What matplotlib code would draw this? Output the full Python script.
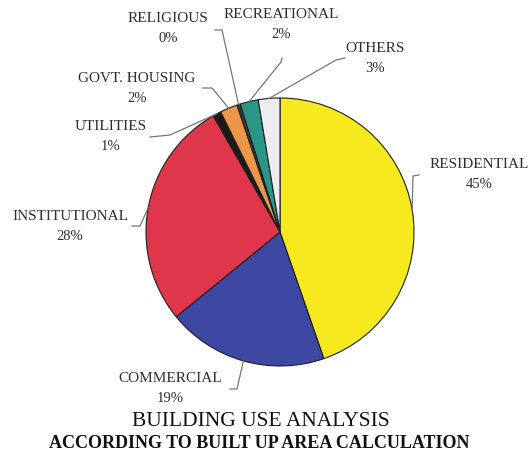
"""Building use pie chart."""

import numpy as np
import matplotlib.pyplot as plt

W, H = 528, 455
DPI = 100
FONT = "Liberation Serif"

# Share of built-up area per building use (percent).
USES = ["RESIDENTIAL", "COMMERCIAL", "INSTITUTIONAL", "UTILITIES",
        "GOVT. HOUSING", "RELIGIOUS", "RECREATIONAL", "OTHERS"]
SHARES = [44.7, 19.4, 27.6, 1.0, 2.1, 0.4, 2.2, 2.6]
COLORS = ["#f6ea1e", "#3d48a2", "#e0364b", "#1c1a1a",
          "#ec9648", "#3a3a3a", "#2a9686", "#ececf1"]

# Label centre (pixels from top-left) and leader path leading to the slice.
LABEL_POS = {
    "RESIDENTIAL": (479, 165),
    "COMMERCIAL": (170, 379),
    "INSTITUTIONAL": (70, 216),
    "UTILITIES": (111, 127),
    "GOVT. HOUSING": (137, 79),
    "RELIGIOUS": (168, 19),
    "RECREATIONAL": (281, 15),
    "OTHERS": (375, 49),
}
LEADERS = {
    "RESIDENTIAL": [(419, 175), (413, 176)],
    "COMMERCIAL": [(230, 389), (237, 389)],
    "INSTITUTIONAL": [(132, 226), (140, 226)],
    "UTILITIES": [(150, 137), (170, 135)],
    "GOVT. HOUSING": [(203, 88), (212, 88)],
    "RELIGIOUS": [(215, 30), (222, 30)],
    "RECREATIONAL": [(282, 58), (281, 62)],
    "OTHERS": [(345, 58), (336, 60)],
}

CENTER = (280, 232)
RADIUS = 134


def px(x, y):
    return x, H - y


def _main() -> None:
    fig = plt.figure(figsize=(W / DPI, H / DPI), dpi=DPI)
    ax = fig.add_axes([0, 0, 1, 1])
    ax.axis("off")

    cx, cy = px(*CENTER)
    wedges, _ = ax.pie(SHARES, colors=COLORS, startangle=90,
                       counterclock=False, center=(cx, cy), radius=RADIUS,
                       wedgeprops=dict(edgecolor="#1e1e1e", linewidth=0.8))
    ax.set_xlim(0, W)
    ax.set_ylim(0, H)
    ax.set_aspect("equal")

    for name, share, wedge in zip(USES, SHARES, wedges):
        lx, ly = LABEL_POS[name]
        ax.text(*px(lx, ly), name, ha="center", va="center", family=FONT,
                fontsize=11, color="#2e2e2e")
        ax.text(*px(lx, ly + 20), f"{share:.0f}%", ha="center", va="center",
                family=FONT, fontsize=10.5, color="#2e2e2e")
        mid = np.deg2rad((wedge.theta1 + wedge.theta2) / 2)
        path = [px(*p) for p in LEADERS[name]]
        path.append((cx + RADIUS * np.cos(mid), cy + RADIUS * np.sin(mid)))
        xs, ys = zip(*path)
        ax.plot(xs, ys, color="#767676", linewidth=0.9)

    ax.text(*px(261, 422), "BUILDING USE ANALYSIS", ha="center",
            va="center", family=FONT, fontsize=15.5, color="#101010")
    ax.text(*px(259, 443), "ACCORDING TO BUILT UP AREA CALCULATION",
            ha="center", va="center", family=FONT, fontsize=13,
            fontweight="bold", color="#101010")

    fig.savefig("out.png", dpi=DPI, facecolor="white")


if __name__ == "__main__":
    _main()
